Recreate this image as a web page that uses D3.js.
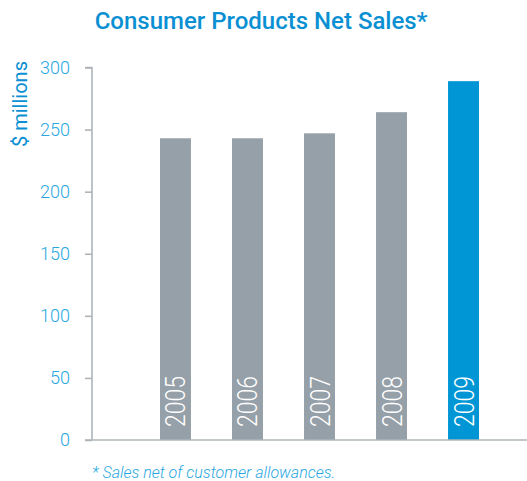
<!DOCTYPE html>
<html>
<head>
<meta charset="utf-8">
<script src="https://cdn.jsdelivr.net/npm/d3@7"></script>
<style>
  html, body { margin: 0; padding: 0; background: #fff; }
  svg { display: block; }
</style>
</head>
<body>
<svg id="chart" width="527" height="481"></svg>
<script>
// Consumer products net sales, $ millions
const years = ["2005", "2006", "2007", "2008", "2009"];
const sales = [243, 243, 247, 264, 289];
const yTicks = [0, 50, 100, 150, 200, 250, 300];
const highlightYear = "2009";

const W = 527, H = 481;
const svg = d3.select("#chart");

const blue = "#0096d6";
const tickBlue = "#2aa7df";
const grey = "#96a0a8";
const axisGrey = "#aeb4b9";

const x = d3.scaleBand().domain(years).range([160, 479]).paddingInner(0.57).paddingOuter(0);
const y = d3.scaleLinear().domain([0, 300]).range([440, 67.5]);

// Title
svg.append("text")
  .attr("x", 261).attr("y", 29)
  .attr("text-anchor", "middle")
  .attr("fill", "#0a90d2")
  .style("font-family", "Roboto, 'Liberation Sans', sans-serif")
  .style("font-weight", 500)
  .style("font-size", "24px")
  .text("Consumer Products Net Sales*");

// Y axis label
svg.append("text")
  .attr("transform", "translate(27,104) rotate(-90)")
  .attr("text-anchor", "middle")
  .attr("fill", "#0a90d2")
  .style("font-family", "Roboto, 'Liberation Sans', sans-serif")
  .style("font-weight", 400)
  .style("font-size", "20px")
  .text("$ millions");

// Bars
svg.append("g").selectAll("rect")
  .data(years.map((yr, i) => ({ yr, v: sales[i] })))
  .join("rect")
  .attr("x", d => x(d.yr))
  .attr("y", d => y(d.v))
  .attr("width", x.bandwidth())
  .attr("height", d => y(0) - y(d.v))
  .attr("fill", d => d.yr === highlightYear ? blue : grey);

// Year labels inside the bars
svg.append("g").selectAll("text")
  .data(years)
  .join("text")
  .attr("transform", d => `translate(${x(d) + x.bandwidth() / 2 + 10},${y(0) - 13}) rotate(-90)`)
  .attr("fill", "#fff")
  .attr("textLength", 51)
  .attr("lengthAdjust", "spacingAndGlyphs")
  .style("font-family", "Roboto, 'Liberation Sans', sans-serif")
  .style("font-weight", 300)
  .style("font-size", "28px")
  .text(d => d);

// Left axis
const yAxis = svg.append("g")
  .attr("transform", "translate(92,0)")
  .call(d3.axisLeft(y).tickValues(yTicks).tickSize(7).tickPadding(15));
yAxis.select(".domain").attr("stroke", axisGrey).attr("stroke-width", 1.6).attr("d", `M-7,${y(300)}H0V${y(0)}`);
yAxis.selectAll(".tick line").attr("stroke", axisGrey).attr("stroke-width", 1.6);
yAxis.selectAll(".tick text")
  .attr("fill", tickBlue)
  .style("font-family", "Roboto, 'Liberation Sans', sans-serif")
  .style("font-weight", 300)
  .style("font-size", "18px");

// Baseline across the plot
svg.append("line")
  .attr("x1", 85).attr("x2", W)
  .attr("y1", y(0)).attr("y2", y(0))
  .attr("stroke", axisGrey).attr("stroke-width", 1.6);

// Footnote
svg.append("text")
  .attr("x", 92).attr("y", 478)
  .attr("fill", tickBlue)
  .style("font-family", "Roboto, 'Liberation Sans', sans-serif")
  .style("font-weight", 300)
  .style("font-style", "italic")
  .style("font-size", "16px")
  .text("* Sales net of customer allowances.");
</script>
</body>
</html>
